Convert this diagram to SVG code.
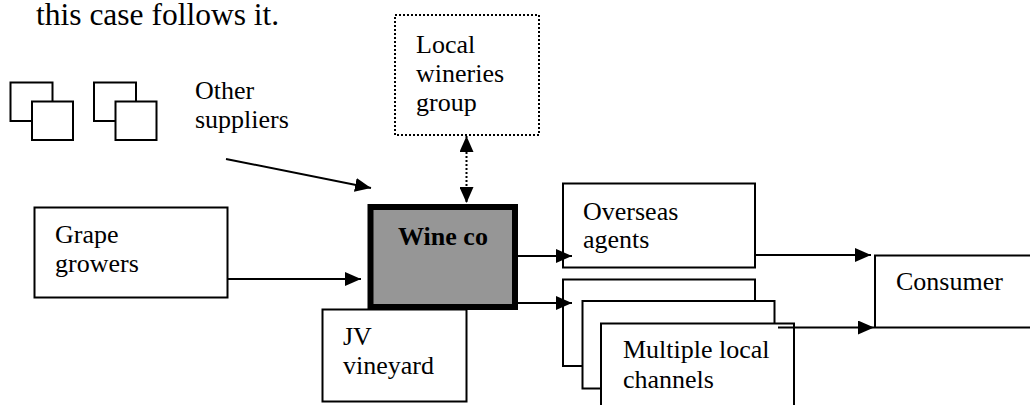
<svg xmlns="http://www.w3.org/2000/svg" width="1030" height="405" viewBox="0 0 1030 405">
  <style>
    .box { fill: #ffffff; stroke: #000000; stroke-width: 2; }
    .txt { font-family: "Liberation Serif", "Times New Roman", serif; font-size: 26px; fill: #000000; }
    .bold { font-weight: bold; }
    .line { fill: none; stroke: #000000; stroke-width: 2; }
    .dotted { fill: none; stroke: #000000; stroke-width: 2; stroke-dasharray: 2 2; }
  </style>
  <defs>
    <marker id="arrow" viewBox="0 0 16 14" refX="16" refY="7" markerWidth="16" markerHeight="14" markerUnits="userSpaceOnUse" orient="auto">
      <path d="M0,0 L16,7 L0,14 Z" fill="#000000"/>
    </marker>
    <marker id="arrowStart" viewBox="0 0 16 14" refX="16" refY="7" markerWidth="16" markerHeight="14" markerUnits="userSpaceOnUse" orient="auto-start-reverse">
      <path d="M0,0 L16,7 L0,14 Z" fill="#000000"/>
    </marker>
  </defs>

  <rect width="1030" height="405" fill="#ffffff"/>

  <!-- running body text above the figure -->
  <text class="txt" x="36" y="25" style="font-size:31.5px">this case follows it.</text>

  <!-- supplier icons -->
  <g id="supplier-icons">
    <rect class="box" x="10.5" y="82.5" width="42" height="38.5"/>
    <rect class="box" x="32" y="101.5" width="41" height="38.5"/>
    <rect class="box" x="94" y="82.5" width="42" height="38.5"/>
    <rect class="box" x="115.5" y="101.5" width="41" height="38.5"/>
  </g>

  <g id="other-suppliers">
    <text class="txt" x="195" y="99">Other</text>
    <text class="txt" x="195" y="128">suppliers</text>
  </g>

  <g id="local-wineries">
    <rect class="box" x="395" y="15" width="144" height="120" style="stroke-dasharray:2 2"/>
    <text class="txt" x="416" y="53">Local</text>
    <text class="txt" x="416" y="82">wineries</text>
    <text class="txt" x="416" y="111">group</text>
  </g>

  <g id="grape-growers">
    <rect class="box" x="34.5" y="207.5" width="193" height="90"/>
    <text class="txt" x="55" y="243">Grape</text>
    <text class="txt" x="55" y="272">growers</text>
  </g>

  <g id="jv-vineyard">
    <rect class="box" x="322.5" y="309.5" width="144" height="92"/>
    <text class="txt" x="343" y="345">JV</text>
    <text class="txt" x="343" y="374">vineyard</text>
  </g>

  <g id="wine-co">
    <rect x="370.5" y="207" width="144.5" height="100" fill="#969696" stroke="#000000" stroke-width="6"/>
    <text class="txt bold" x="443" y="245" text-anchor="middle">Wine co</text>
  </g>

  <g id="overseas-agents">
    <rect class="box" x="563" y="183.5" width="192" height="84"/>
    <text class="txt" x="583" y="220">Overseas</text>
    <text class="txt" x="583" y="248">agents</text>
  </g>

  <g id="local-channels">
    <rect class="box" x="563" y="279.5" width="192" height="86.5"/>
    <rect class="box" x="582.5" y="301" width="192" height="87.5"/>
    <rect class="box" x="601" y="323.5" width="193" height="90"/>
    <text class="txt" x="623" y="358">Multiple local</text>
    <text class="txt" x="623" y="388">channels</text>
  </g>

  <g id="consumer">
    <rect class="box" x="875" y="255.5" width="170" height="72"/>
    <text class="txt" x="896" y="290">Consumer</text>
  </g>

  <g id="connectors">
    <line class="line" x1="226" y1="159" x2="371" y2="188" marker-end="url(#arrow)"/>
    <line class="line" x1="228" y1="279" x2="361" y2="279" marker-end="url(#arrow)"/>
    <line class="dotted" x1="466.5" y1="136" x2="466.5" y2="203" marker-start="url(#arrowStart)" marker-end="url(#arrow)"/>
    <line class="line" x1="518" y1="256" x2="572" y2="256" marker-end="url(#arrow)"/>
    <line class="line" x1="518" y1="303" x2="572" y2="303" marker-end="url(#arrow)"/>
    <line class="line" x1="755" y1="255" x2="871" y2="255" marker-end="url(#arrow)"/>
    <line class="line" x1="778" y1="327.5" x2="874" y2="327.5" marker-end="url(#arrow)"/>
  </g>
</svg>
